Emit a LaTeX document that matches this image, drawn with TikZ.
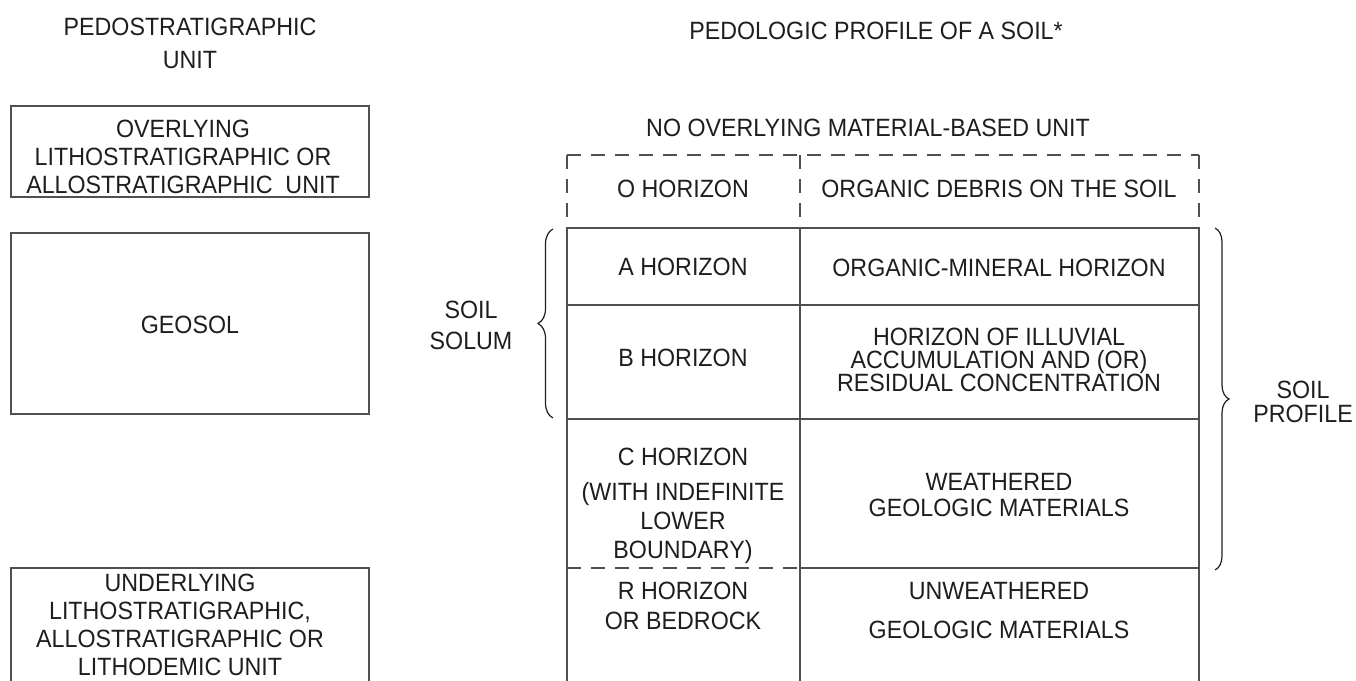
\documentclass[tikz,border=0pt]{standalone}
\usepackage{fontspec}
\setmainfont{Liberation Sans}[FakeStretch=0.93]
\usetikzlibrary{decorations.pathreplacing}
\definecolor{ink}{HTML}{1E1E1E}
\definecolor{rule}{HTML}{505050}
\tikzset{
  txt/.style={text=ink, align=center, inner sep=0pt, font=\fontsize{25}{28}\selectfont},
  frame/.style={draw=rule, line width=1.5pt},
  dashline/.style={draw=rule, line width=1.5pt, dash pattern=on 14pt off 10pt},
  bracestyle/.style={draw=ink, line width=1.2pt, decorate, decoration={brace, amplitude=#1}}
}
\begin{document}
\begin{tikzpicture}[x=1pt, y=-1pt]
\useasboundingbox (0,0) rectangle (1356,680);
% titles
\node[txt, font=\fontsize{25}{33}\selectfont] (t1) at (190,43) {PEDOSTRATIGRAPHIC\\UNIT};
\node[txt] (t2) at (876,31) {PEDOLOGIC PROFILE OF A SOIL*};
% left boxes
\draw[frame] (11,106) rectangle (369,197);
\node[txt] (over) at (183,157) {OVERLYING\\LITHOSTRATIGRAPHIC OR\\ALLOSTRATIGRAPHIC\ \ UNIT};
\draw[frame] (11,233) rectangle (369,414);
\node[txt] (geosol) at (190,325) {GEOSOL};
\draw[frame] (11,690) -- (11,568) -- (369,568) -- (369,690);
\node[txt] (under) at (180,625) {UNDERLYING\\LITHOSTRATIGRAPHIC,\\ALLOSTRATIGRAPHIC OR\\LITHODEMIC UNIT};
% top label
\node[txt] (noover) at (868,128) {NO OVERLYING MATERIAL-BASED UNIT};
% dashed O row
\draw[dashline] (567,155) -- (1199,155);
\draw[dashline] (567,155) -- (567,228);
\draw[dashline] (800,155) -- (800,228);
\draw[dashline] (1199,155) -- (1199,228);
% table
\draw[frame] (567,690) -- (567,228) -- (1199,228) -- (1199,690);
\draw[frame] (800,228) -- (800,690);
\draw[frame] (567,305) -- (1199,305);
\draw[frame] (567,419) -- (1199,419);
\draw[frame] (800,568) -- (1199,568);
\draw[dashline] (567,568) -- (800,568);
% cells
\node[txt] (oh) at (683,189) {O HORIZON};
\node[txt] (od) at (999,189) {ORGANIC DEBRIS ON THE SOIL};
\node[txt] (ah) at (683,267) {A HORIZON};
\node[txt] (ad) at (999,268) {ORGANIC-MINERAL HORIZON};
\node[txt] (bh) at (683,358) {B HORIZON};
\node[txt, font=\fontsize{25}{23}\selectfont] (bd) at (999,360) {HORIZON OF ILLUVIAL\\ACCUMULATION AND (OR)\\RESIDUAL CONCENTRATION};
\node[txt, font=\fontsize{25}{29}\selectfont] (ch) at (683,506) {C HORIZON\\[6pt](WITH INDEFINITE\\LOWER\\BOUNDARY)};
\node[txt, font=\fontsize{25}{26}\selectfont] (cd) at (999,495) {WEATHERED\\GEOLOGIC MATERIALS};
\node[txt, font=\fontsize{25}{30}\selectfont] (rh) at (683,606) {R HORIZON\\OR BEDROCK};
\node[txt, font=\fontsize{25}{39}\selectfont] (rd) at (999,611) {UNWEATHERED\\GEOLOGIC MATERIALS};
% braces
\coordinate (lb1) at (553,418);
\coordinate (lb2) at (553,229);
\draw[bracestyle=15pt] (lb1) -- (lb2);
\node[txt, font=\fontsize{25}{31}\selectfont] (solum) at (471,325) {SOIL\\SOLUM};
\coordinate (rb1) at (1215,228);
\coordinate (rb2) at (1215,570);
\draw[bracestyle=14pt] (rb1) -- (rb2);
\node[txt, font=\fontsize{25}{24}\selectfont] (profile) at (1303,402) {SOIL\\PROFILE};
\end{tikzpicture}
\end{document}
